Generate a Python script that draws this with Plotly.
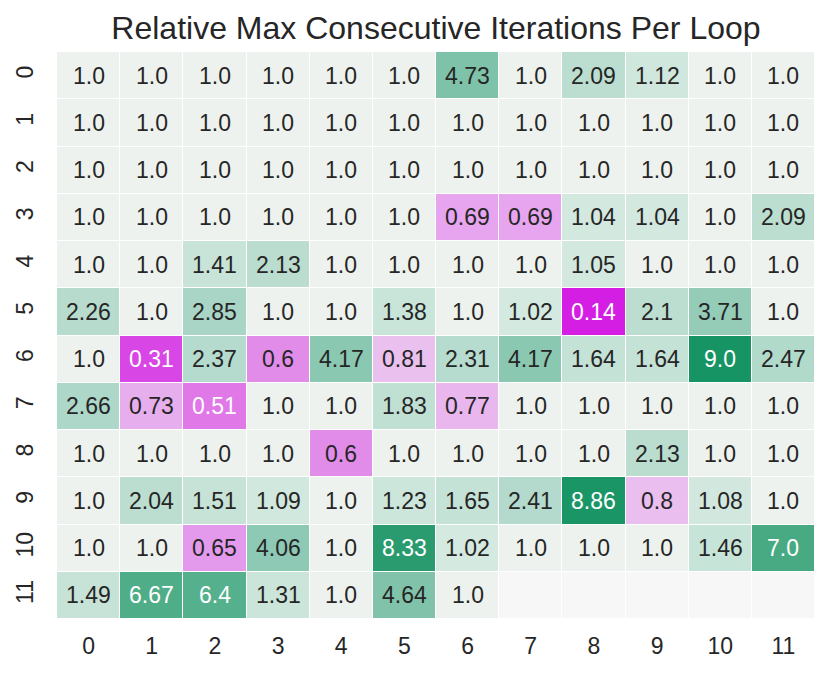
import plotly.graph_objects as go

# Relative max consecutive iterations per loop (12 x 12, last row partly empty)
rows = list(range(12))
cols = list(range(12))
values = [
    [1.0, 1.0, 1.0, 1.0, 1.0, 1.0, 4.73, 1.0, 2.09, 1.12, 1.0, 1.0],
    [1.0, 1.0, 1.0, 1.0, 1.0, 1.0, 1.0, 1.0, 1.0, 1.0, 1.0, 1.0],
    [1.0, 1.0, 1.0, 1.0, 1.0, 1.0, 1.0, 1.0, 1.0, 1.0, 1.0, 1.0],
    [1.0, 1.0, 1.0, 1.0, 1.0, 1.0, 0.69, 0.69, 1.04, 1.04, 1.0, 2.09],
    [1.0, 1.0, 1.41, 2.13, 1.0, 1.0, 1.0, 1.0, 1.05, 1.0, 1.0, 1.0],
    [2.26, 1.0, 2.85, 1.0, 1.0, 1.38, 1.0, 1.02, 0.14, 2.1, 3.71, 1.0],
    [1.0, 0.31, 2.37, 0.6, 4.17, 0.81, 2.31, 4.17, 1.64, 1.64, 9.0, 2.47],
    [2.66, 0.73, 0.51, 1.0, 1.0, 1.83, 0.77, 1.0, 1.0, 1.0, 1.0, 1.0],
    [1.0, 1.0, 1.0, 1.0, 0.6, 1.0, 1.0, 1.0, 1.0, 2.13, 1.0, 1.0],
    [1.0, 2.04, 1.51, 1.09, 1.0, 1.23, 1.65, 2.41, 8.86, 0.8, 1.08, 1.0],
    [1.0, 1.0, 0.65, 4.06, 1.0, 8.33, 1.02, 1.0, 1.0, 1.0, 1.46, 7.0],
    [1.49, 6.67, 6.4, 1.31, 1.0, 4.64, 1.0, None, None, None, None, None],
]

zmin, zmax, zcenter = 0.14, 9.0, 1.0
c = (zcenter - zmin) / (zmax - zmin)

# magenta -> light -> green, centred on 1.0
neg_stops = [(0.0, "rgb(212,30,228)"), (0.198, "rgb(216,70,230)"), (0.43, "rgb(224,120,232)"),
             (0.535, "rgb(226,140,234)"), (0.64, "rgb(230,165,238)"), (0.733, "rgb(233,183,237)"),
             (0.78, "rgb(234,192,238)"), (0.999, "rgb(236,215,238)")]
pos_stops = [(0.0, "rgb(238,242,238)"), (0.0025, "rgb(212,233,224)"), (0.015, "rgb(208,231,222)"),
             (0.05, "rgb(200,228,216)"), (0.08, "rgb(197,226,214)"), (0.135, "rgb(187,222,209)"),
             (0.17, "rgb(180,219,205)"), (0.23, "rgb(168,213,197)"), (0.34, "rgb(148,204,184)"),
             (0.4, "rgb(138,200,178)"), (0.47, "rgb(125,194,168)"), (0.68, "rgb(84,176,140)"),
             (0.75, "rgb(72,170,130)"), (0.92, "rgb(40,155,110)"), (1.0, "rgb(22,148,100)")]
colorscale = [[t * c, col] for t, col in neg_stops] + [[c + u * (1 - c), col] for u, col in pos_stops]

fig = go.Figure()

# empty cells shown in light grey
mask = [[1 if v is None else None for v in r] for r in values]
fig.add_trace(go.Heatmap(z=mask, x=cols, y=rows, colorscale=[[0, "#f7f7f7"], [1, "#f7f7f7"]],
                         showscale=False, xgap=1, ygap=1, hoverinfo="skip"))

fig.add_trace(go.Heatmap(z=values, x=cols, y=rows, colorscale=colorscale, zmin=zmin, zmax=zmax,
                         showscale=False, xgap=1, ygap=1))

annotations = []
for i, r in enumerate(values):
    for j, v in enumerate(r):
        if v is None:
            continue
        color = "white" if (v < 0.55 or v > 6) else "#262626"
        annotations.append(dict(x=cols[j], y=rows[i], text=str(v), showarrow=False,
                                font=dict(size=23, color=color)))

# page has an 8px body margin, so the figure is shifted by 8px
fig.update_layout(
    width=831, height=673,
    margin=dict(l=49, r=24, t=44, b=62),
    paper_bgcolor="white", plot_bgcolor="white",
    font=dict(family="Liberation Sans, Arial, sans-serif", color="#262626"),
    title=dict(text="Relative Max Consecutive Iterations Per Loop", x=0.515, xanchor="center",
               y=0.97, yanchor="middle", font=dict(size=32, color="#262626")),
    annotations=annotations,
)
fig.update_xaxes(tickvals=cols, ticktext=[str(c_) for c_ in cols], tickfont=dict(size=23),
                 showgrid=False, zeroline=False, ticks="", ticklabelstandoff=11, automargin=False)
fig.update_yaxes(tickvals=rows, ticktext=[str(r_) for r_ in rows], tickfont=dict(size=23),
                 autorange="reversed", tickangle=-90, showgrid=False, zeroline=False,
                 ticks="", ticklabelstandoff=18, automargin=False)

fig.write_html("out.html")
